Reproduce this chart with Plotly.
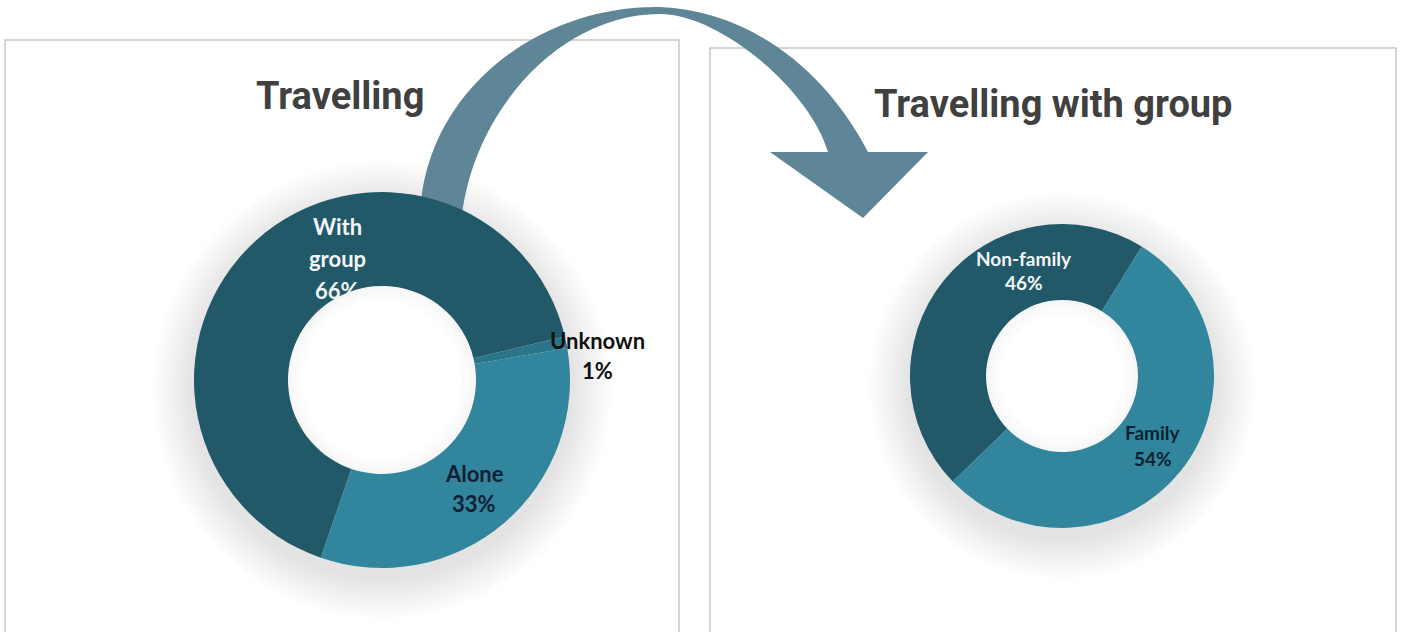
import plotly.graph_objects as go

W, H = 1402, 632

# ---- data ----
left_title = "Travelling"
left_labels = ["With group", "Unknown", "Alone"]
left_values = [66, 1, 33]

right_title = "Travelling with group"
right_labels = ["Non-family", "Family"]
right_values = [46, 54]

# ---- styling ----
DARK = "#215968"
MID = "#31859C"
UNK = "#2A7589"
ARROW = "#5E8696"
TITLE_FONT = "Roboto, Liberation Sans Narrow, sans-serif"
LABEL_FONT = "Lato, Open Sans, sans-serif"


def px(x):
    return x / W


def py(y):
    return 1 - y / H


def pie_domain(cx, cy, r):
    return dict(x=[px(cx - r), px(cx + r)], y=[py(cy + r), py(cy - r)])


L_CX, L_CY, L_R = 382, 380, 188
R_CX, R_CY, R_R = 1062, 376, 152

fig = go.Figure()
fig.add_trace(go.Pie(
    labels=left_labels, values=left_values, hole=0.5, sort=False,
    direction="clockwise", rotation=199, textinfo="none",
    marker=dict(colors=[DARK, UNK, MID], line=dict(width=0)),
    domain=pie_domain(L_CX, L_CY, L_R), hoverinfo="label+percent",
))
fig.add_trace(go.Pie(
    labels=right_labels, values=right_values, hole=0.5, sort=False,
    direction="clockwise", rotation=226, textinfo="none",
    marker=dict(colors=[DARK, MID], line=dict(width=0)),
    domain=pie_domain(R_CX, R_CY, R_R), hoverinfo="label+percent",
))

shapes = []
# panel boxes
shapes.append(dict(type="rect", xref="paper", yref="paper",
                   x0=px(5), x1=px(679), y0=py(640), y1=py(40),
                   line=dict(color="#C8C8C8", width=1.5), fillcolor="rgba(0,0,0,0)", layer="below"))
shapes.append(dict(type="rect", xref="paper", yref="paper",
                   x0=px(710), x1=px(1396), y0=py(640), y1=py(48),
                   line=dict(color="#C8C8C8", width=1.5), fillcolor="rgba(0,0,0,0)", layer="below"))

# soft shadows behind donuts
for cx, cy, r in [(L_CX, L_CY, L_R), (R_CX, R_CY, R_R)]:
    for k in range(14):
        rr = r + 2 + k * 3
        oy = cy + 10
        shapes.append(dict(type="circle", xref="paper", yref="paper",
                           x0=px(cx - rr), x1=px(cx + rr), y0=py(oy + rr), y1=py(oy - rr),
                           fillcolor="rgba(130,130,130,0.015)", line=dict(width=0), layer="below"))
    # white hole with faint inner shading
    hr = r * 0.5
    for d, c in [(2, "#F6F6F6"), (-3, "#F9F9F9"), (-8, "#FCFCFC"), (-14, "#FFFFFF")]:
        shapes.append(dict(type="circle", xref="paper", yref="paper",
                           x0=px(cx - hr - d), x1=px(cx + hr + d), y0=py(cy + hr + d), y1=py(cy - hr - d),
                           fillcolor=c, line=dict(width=0), layer="below"))


def P(x, y):
    return f"{px(x):.5f},{py(y):.5f}"


arrow_path = (
    f"M {P(420,215)} C {P(425,90)} {P(540,5)} {P(660,7)} "
    f"C {P(740,10)} {P(820,60)} {P(868,152)} "
    f"L {P(928,152)} L {P(863,218)} L {P(770,152)} L {P(828,152)} "
    f"C {P(810,90)} {P(720,14)} {P(660,14)} "
    f"C {P(560,14)} {P(475,110)} {P(462,215)} Z"
)
shapes.append(dict(type="path", xref="paper", yref="paper", path=arrow_path,
                   fillcolor=ARROW, line=dict(width=0), layer="below"))

annotations = []
annotations.append(dict(text=f"<b>{left_title}</b>", x=px(340), y=py(96), xref="paper", yref="paper",
                        showarrow=False, xanchor="center", yanchor="middle",
                        font=dict(family=TITLE_FONT, size=38, color="#404040")))
annotations.append(dict(text=f"<b>{right_title}</b>", x=px(1053), y=py(104), xref="paper", yref="paper",
                        showarrow=False, xanchor="center", yanchor="middle",
                        font=dict(family=TITLE_FONT, size=38, color="#404040")))

# label positions (pixel centres of first line), spacing, size, colour
left_pos = [(337, 226, 32, 22, "#F2F6F8"), (597, 340, 30, 22, "#111111"), (474, 473, 30, 22, "#0F1F33")]
right_pos = [(1024, 258, 25, 19, "#F2F6F8"), (1153, 432, 26, 19, "#0F1F33")]


def add_labels(labels, values, positions):
    total = sum(values)
    for lab, val, (x, y, dy, size, col) in zip(labels, values, positions):
        lines = lab.split(" ") + [f"{round(100 * val / total)}%"]
        for i, t in enumerate(lines):
            annotations.append(dict(text=f"<b>{t}</b>", x=px(x), y=py(y + i * dy),
                                    xref="paper", yref="paper", showarrow=False,
                                    xanchor="center", yanchor="middle",
                                    font=dict(family=LABEL_FONT, size=size, color=col)))


add_labels(left_labels, left_values, left_pos)
add_labels(right_labels, right_values, right_pos)

fig.update_layout(
    width=W, height=H, margin=dict(l=0, r=0, t=0, b=0),
    paper_bgcolor="white", plot_bgcolor="white", showlegend=False,
    shapes=shapes, annotations=annotations,
)

fig.write_html("out.html", config={"displayModeBar": False},
               post_script="document.body.style.margin='0';document.body.style.overflow='hidden';")
